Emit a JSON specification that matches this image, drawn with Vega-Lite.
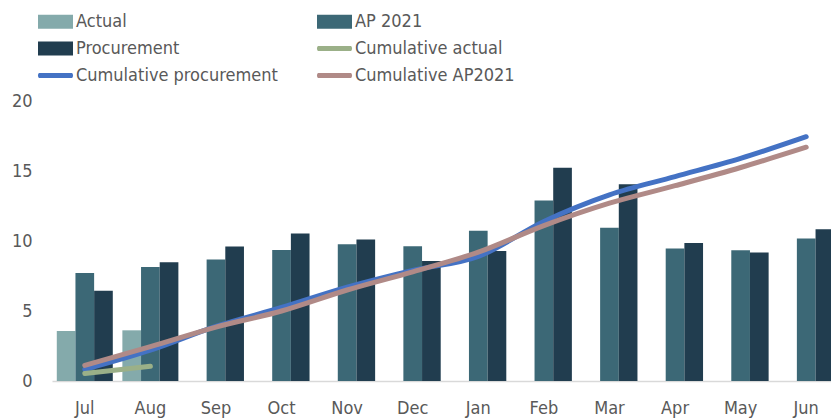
{
  "$schema": "https://vega.github.io/schema/vega-lite/v6.json",
  "autosize": "none",
  "width": 787,
  "height": 280,
  "padding": {"left": 52, "top": 101, "right": -8, "bottom": 37},
  "background": "white",
  "config": {
    "view": {"stroke": null},
    "font": "Liberation Sans Narrow, DejaVu Sans Condensed, Liberation Sans",
    "axis": {"labelFont": "Liberation Sans Narrow, DejaVu Sans Condensed, Liberation Sans", "labelFontSize": 18, "labelColor": "#595959", "title": null, "grid": false, "ticks": false}
  },
  "datasets": {
    "bars": [
      {"month": "Jul", "series": "Actual", "value": 3.57},
      {"month": "Jul", "series": "AP 2021", "value": 7.71},
      {"month": "Jul", "series": "Procurement", "value": 6.45},
      {"month": "Aug", "series": "Actual", "value": 3.62},
      {"month": "Aug", "series": "AP 2021", "value": 8.14},
      {"month": "Aug", "series": "Procurement", "value": 8.48},
      {"month": "Sep", "series": "AP 2021", "value": 8.67},
      {"month": "Sep", "series": "Procurement", "value": 9.6},
      {"month": "Oct", "series": "AP 2021", "value": 9.36},
      {"month": "Oct", "series": "Procurement", "value": 10.53},
      {"month": "Nov", "series": "AP 2021", "value": 9.76},
      {"month": "Nov", "series": "Procurement", "value": 10.1},
      {"month": "Dec", "series": "AP 2021", "value": 9.62},
      {"month": "Dec", "series": "Procurement", "value": 8.57},
      {"month": "Jan", "series": "AP 2021", "value": 10.74},
      {"month": "Jan", "series": "Procurement", "value": 9.29},
      {"month": "Feb", "series": "AP 2021", "value": 12.9},
      {"month": "Feb", "series": "Procurement", "value": 15.24},
      {"month": "Mar", "series": "AP 2021", "value": 10.95},
      {"month": "Mar", "series": "Procurement", "value": 14.05},
      {"month": "Apr", "series": "AP 2021", "value": 9.46},
      {"month": "Apr", "series": "Procurement", "value": 9.86},
      {"month": "May", "series": "AP 2021", "value": 9.34},
      {"month": "May", "series": "Procurement", "value": 9.17},
      {"month": "Jun", "series": "AP 2021", "value": 10.17},
      {"month": "Jun", "series": "Procurement", "value": 10.84}
    ],
    "lines": [
      {"month": "Jul", "series": "Cumulative procurement", "value": 0.83},
      {"month": "Aug", "series": "Cumulative procurement", "value": 2.2},
      {"month": "Sep", "series": "Cumulative procurement", "value": 3.9},
      {"month": "Oct", "series": "Cumulative procurement", "value": 5.25},
      {"month": "Nov", "series": "Cumulative procurement", "value": 6.7},
      {"month": "Dec", "series": "Cumulative procurement", "value": 7.9},
      {"month": "Jan", "series": "Cumulative procurement", "value": 8.9},
      {"month": "Feb", "series": "Cumulative procurement", "value": 11.4},
      {"month": "Mar", "series": "Cumulative procurement", "value": 13.3},
      {"month": "Apr", "series": "Cumulative procurement", "value": 14.6},
      {"month": "May", "series": "Cumulative procurement", "value": 15.9},
      {"month": "Jun", "series": "Cumulative procurement", "value": 17.45},
      {"month": "Jul", "series": "Cumulative AP2021", "value": 1.12},
      {"month": "Aug", "series": "Cumulative AP2021", "value": 2.45},
      {"month": "Sep", "series": "Cumulative AP2021", "value": 3.85},
      {"month": "Oct", "series": "Cumulative AP2021", "value": 5.0},
      {"month": "Nov", "series": "Cumulative AP2021", "value": 6.5},
      {"month": "Dec", "series": "Cumulative AP2021", "value": 7.8},
      {"month": "Jan", "series": "Cumulative AP2021", "value": 9.2},
      {"month": "Feb", "series": "Cumulative AP2021", "value": 11.1},
      {"month": "Mar", "series": "Cumulative AP2021", "value": 12.7},
      {"month": "Apr", "series": "Cumulative AP2021", "value": 13.95},
      {"month": "May", "series": "Cumulative AP2021", "value": 15.25},
      {"month": "Jun", "series": "Cumulative AP2021", "value": 16.7},
      {"month": "Jul", "series": "Cumulative actual", "value": 0.53},
      {"month": "Aug", "series": "Cumulative actual", "value": 1.05}
    ]
  },
  "layer": [
    {
      "data": {"name": "bars"},
      "mark": {"type": "bar"},
      "encoding": {
        "x": {
          "field": "month", "type": "nominal",
          "sort": ["Jul","Aug","Sep","Oct","Nov","Dec","Jan","Feb","Mar","Apr","May","Jun"],
          "scale": {"paddingInner": 0.146, "paddingOuter": 0.073},
          "axis": {"labelAngle": 0, "labelPadding": 18, "domainColor": "#D9D9D9", "domainWidth": 1.5, "labelBaseline": "top"}
        },
        "xOffset": {"field": "series", "type": "nominal", "sort": ["Actual","AP 2021","Procurement"], "scale": {"domain": ["Actual","AP 2021","Procurement"], "paddingInner": 0, "paddingOuter": 0}},
        "y": {
          "field": "value", "type": "quantitative",
          "scale": {"domain": [0, 20], "nice": false},
          "axis": {"values": [0,5,10,15,20], "domain": false, "labelPadding": 20}
        },
        "color": {
          "field": "series", "type": "nominal",
          "scale": {
            "domain": ["Actual","AP 2021","Procurement","Cumulative actual","Cumulative procurement","Cumulative AP2021"],
            "range": ["#84AAAB","#3C6876","#213D4F","#9BB088","#4472C4","#B08A87"]
          },
          "legend": {
            "orient": "none", "legendX": -14, "legendY": -97,
            "direction": "horizontal", "columns": 2, "columnPadding": 38, "rowPadding": -7.5,
            "symbolSize": 1225, "labelOffset": 3, "labelFontSize": 18, "labelColor": "#595959",
            "labelFont": "Liberation Sans Narrow, DejaVu Sans Condensed, Liberation Sans",
            "labelLimit": 400, "title": null, "padding": 0,
            "encode": {
              "symbols": {
                "update": {
                  "shape": {"signal": "indexof(['Actual','AP 2021','Procurement'], datum.value) >= 0 ? 'M-1,-0.4H1V0.4H-1Z' : 'M-0.93,-0.14H0.93A0.07,0.14 0 0 1 0.93,0.14H-0.93A0.07,0.14 0 0 1 -0.93,-0.14Z'"},
                  "fill": {"scale": "color", "field": "value"},
                  "stroke": {"value": "transparent"},
                  "strokeWidth": {"value": 0},
                  "opacity": {"value": 1}
                }
              }
            }
          }
        }
      }
    },
    {
      "data": {"name": "lines"},
      "mark": {"type": "line", "strokeWidth": 5, "strokeCap": "round", "interpolate": "monotone"},
      "encoding": {
        "x": {"field": "month", "type": "nominal", "sort": ["Jul","Aug","Sep","Oct","Nov","Dec","Jan","Feb","Mar","Apr","May","Jun"]},
        "y": {"field": "value", "type": "quantitative"},
        "color": {"field": "series", "type": "nominal"}
      }
    }
  ]
}
